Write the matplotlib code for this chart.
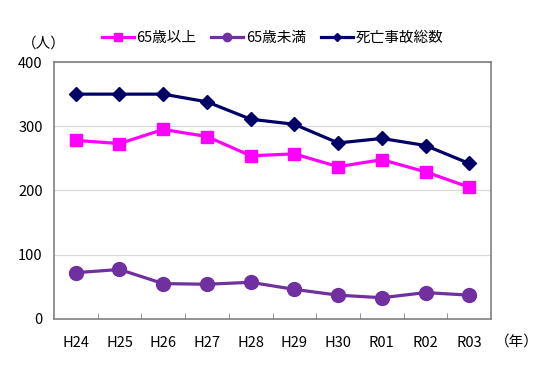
import numpy as np
import matplotlib
matplotlib.use("Agg")
import matplotlib.pyplot as plt

plt.rcParams['font.family'] = ['Noto Sans CJK JP', 'DejaVu Sans']

years = ["H24", "H25", "H26", "H27", "H28", "H29", "H30", "R01", "R02", "R03"]
over65 = [278, 273, 295, 284, 254, 257, 237, 248, 229, 205]
under65 = [72, 77, 55, 54, 57, 46, 37, 33, 41, 37]
total = [350, 350, 350, 338, 311, 303, 274, 281, 270, 242]

fig = plt.figure(figsize=(5.5, 3.67), dpi=100)
ax = fig.add_axes([0.098, 0.131, 0.795, 0.70])

x = np.arange(len(years))
ax.plot(x, over65, color="#FF00FF", lw=2.3, marker="s", ms=9, label="65歳以上")
ax.plot(x, under65, color="#7030A0", lw=2.3, marker="o", ms=10, label="65歳未満")
ax.plot(x, total, color="#000066", lw=2.3, marker="D", ms=7, label="死亡事故総数")

ax.set_xlim(-0.5, 9.5)
ax.set_ylim(0, 400)
ax.set_yticks([0, 100, 200, 300, 400])
ax.set_xticks(x)
ax.set_xticklabels(years)
ax.set_xticks(np.arange(0.5, 9, 1), minor=True)
ax.tick_params(axis="x", which="major", length=0, pad=12, labelsize=10.5)
ax.tick_params(axis="x", which="minor", length=4, color="#808080", direction="in")
ax.tick_params(axis="y", length=0, pad=8, labelsize=10.5)
ax.grid(axis="y", color="#D9D9D9", lw=0.9)
ax.set_axisbelow(True)
for s in ax.spines.values():
    s.set_color("#808080")
    s.set_linewidth(1.2)

fig.text(0.04, 0.88, "（人）", fontsize=10.5, va="center")
fig.text(0.9, 0.068, "（年）", fontsize=10.5, va="center")

ax.legend(loc="lower center", bbox_to_anchor=(0.5, 1.045), ncol=3, frameon=False,
          fontsize=10.5, handlelength=2.2, handletextpad=0.2, columnspacing=1.0,
          borderaxespad=0, markerscale=0.6)

fig.savefig("out.png", dpi=100)
